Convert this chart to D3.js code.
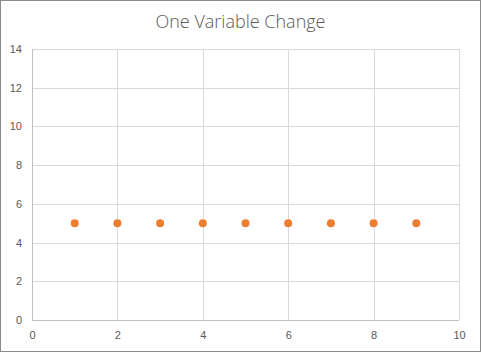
<!DOCTYPE html>
<html>
<head>
<meta charset="utf-8">
<script src="https://cdn.jsdelivr.net/npm/d3@7"></script>
<style>
  body { margin: 0; background: #fff; }
  svg { display: block; font-family: "Open Sans", "Noto Sans", sans-serif; }
  .tick text { fill: #595959; font-size: 11px; }
</style>
</head>
<body>
<div id="chart"></div>
<script>
// chart data
var xValues = [1, 2, 3, 4, 5, 6, 7, 8, 9];
var yValues = [5, 5, 5, 5, 5, 5, 5, 5, 5];
var xTicks = [0, 2, 4, 6, 8, 10];
var yTicks = [0, 2, 4, 6, 8, 10, 12, 14];
var title = "One Variable Change";

var W = 481, H = 352;
var margin = {top: 49, right: 22, bottom: 32, left: 32};
var width = W - margin.left - margin.right,
    height = H - margin.top - margin.bottom;

var svg = d3.select("#chart").append("svg")
    .attr("width", W)
    .attr("height", H);

// outer border
svg.append("rect")
    .attr("x", 0.5).attr("y", 0.5)
    .attr("width", W - 1).attr("height", H - 1)
    .attr("fill", "#fff")
    .attr("stroke", "#8c8c8c");

svg.append("text")
    .attr("x", W / 2)
    .attr("y", 28)
    .attr("text-anchor", "middle")
    .attr("fill", "#595959")
    .style("font-size", "18px")
    .style("font-weight", 300)
    .text(title);

var g = svg.append("g")
    .attr("transform", "translate(" + margin.left + "," + margin.top + ")");

var x = d3.scaleLinear().domain([0, 10]).range([0, width]);
var y = d3.scaleLinear().domain([0, 14]).range([height, 0]);

// gridlines
g.selectAll(".hgrid").data(yTicks).enter().append("line")
    .attr("x1", 0).attr("x2", width)
    .attr("y1", function(d) { return Math.round(y(d)) + 0.5; })
    .attr("y2", function(d) { return Math.round(y(d)) + 0.5; })
    .attr("stroke", "#d9d9d9");
g.selectAll(".vgrid").data(xTicks).enter().append("line")
    .attr("y1", 0).attr("y2", height)
    .attr("x1", function(d) { return Math.round(x(d)) + 0.5; })
    .attr("x2", function(d) { return Math.round(x(d)) + 0.5; })
    .attr("stroke", "#d9d9d9");

// axis lines
g.append("line")
    .attr("x1", 0).attr("x2", width)
    .attr("y1", height + 0.5).attr("y2", height + 0.5)
    .attr("stroke", "#bfbfbf");
g.append("line")
    .attr("x1", 0.5).attr("x2", 0.5)
    .attr("y1", 0).attr("y2", height)
    .attr("stroke", "#bfbfbf");

var xAxis = g.append("g")
    .attr("transform", "translate(0," + height + ")")
    .call(d3.axisBottom(x).tickValues(xTicks).tickSize(0).tickPadding(11));
xAxis.select(".domain").remove();

var yAxis = g.append("g")
    .call(d3.axisLeft(y).tickValues(yTicks).tickSize(0).tickPadding(10));
yAxis.select(".domain").remove();

g.selectAll(".dot").data(xValues).enter().append("circle")
    .attr("class", "dot")
    .attr("cx", function(d) { return x(d); })
    .attr("cy", function(d, i) { return y(yValues[i]); })
    .attr("r", 4)
    .attr("fill", "#ed7d31");
</script>
</body>
</html>
